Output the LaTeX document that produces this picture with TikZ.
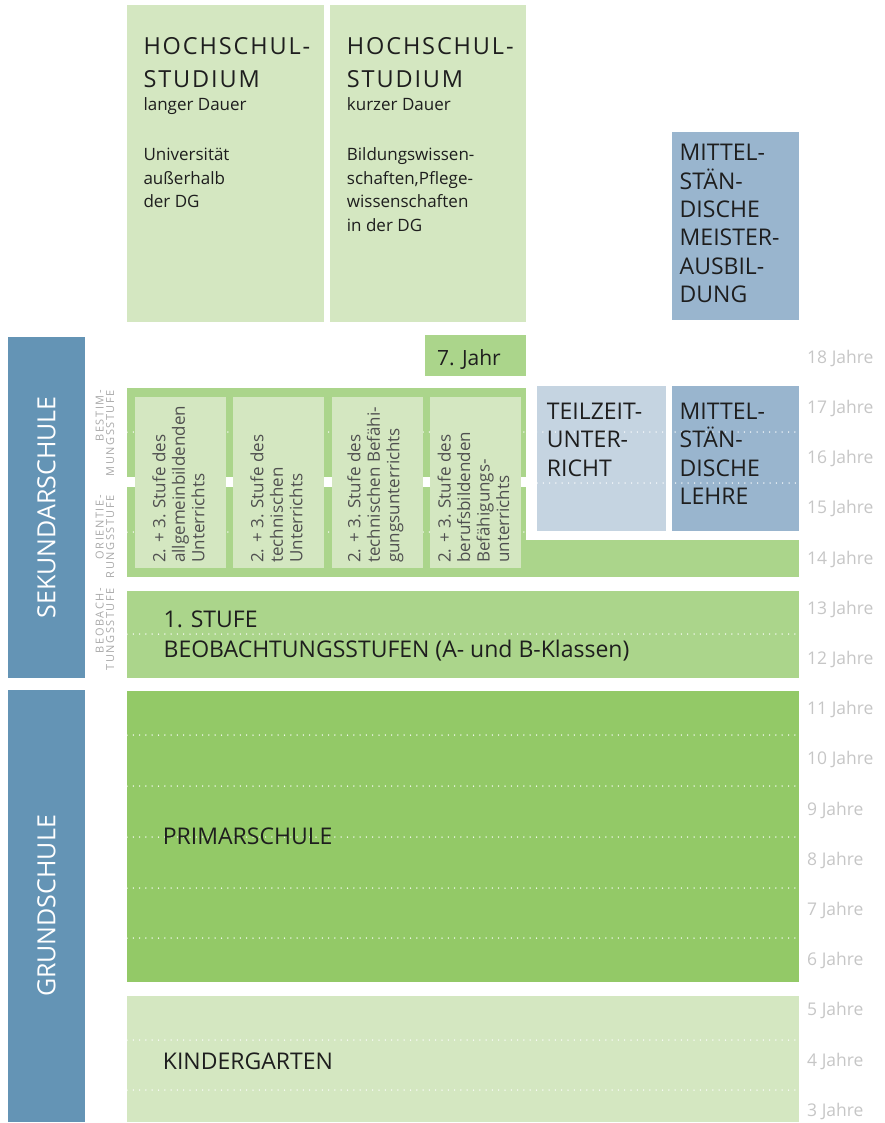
\documentclass[tikz,border=0pt]{standalone}
\usepackage{fontspec}
\setmainfont{Open Sans}
\newfontfamily\titlefont[LetterSpace=8]{Open Sans}
\newfontfamily\stagefont[LetterSpace=14]{Open Sans}
\usetikzlibrary{positioning}

\definecolor{paleGreen}{HTML}{D4E7C1}
\definecolor{midGreen}{HTML}{ABD58B}
\definecolor{strongGreen}{HTML}{93C967}
\definecolor{barBlue}{HTML}{6494B5}
\definecolor{meisterBlue}{HTML}{99B5CE}
\definecolor{paleBlue}{HTML}{C5D4E1}
\definecolor{ageGray}{HTML}{C6C6C6}
\definecolor{stageGray}{HTML}{A9A9A9}
\definecolor{inkBlack}{HTML}{1E1E1E}
\definecolor{turnGray}{HTML}{505050}

% base west of a multi-line node sits on its last line
\tikzstyle{box} = [rectangle, anchor=north west, inner sep=0pt, outer sep=0pt]
\tikzstyle{title} = [anchor=base west, inner sep=0pt, align=left, text=inkBlack, font=\titlefont\fontsize{23.5}{32.3}\selectfont]
\tikzstyle{boxtext} = [anchor=base west, inner sep=0pt, align=left, text=inkBlack, font=\fontsize{23}{28.4}\selectfont]
\tikzstyle{smalltext} = [anchor=base west, inner sep=0pt, align=left, text=inkBlack, font=\fontsize{17}{23.5}\selectfont]
\tikzstyle{turned} = [rotate=90, anchor=west, inner sep=0pt, align=left, text=turnGray, font=\fontsize{17}{19.5}\selectfont]
\tikzstyle{stage} = [rotate=90, anchor=east, inner sep=0pt, align=right, text=stageGray, font=\stagefont\fontsize{11}{10.5}\selectfont]
\tikzstyle{school} = [rotate=90, inner sep=0pt, text=white, font=\fontsize{25}{30}\selectfont]
\tikzstyle{age} = [anchor=west, inner sep=0pt, text=ageGray, font=\fontsize{17.5}{20}\selectfont]
\tikzstyle{yearline} = [white, line width=1.5pt, line cap=round, dash pattern=on 0pt off 6.3pt]

\begin{document}
\begin{tikzpicture}[x=1pt, y=-1pt]
\useasboundingbox (0,0) rectangle (884,1123);

% school types on the left
\node (sek) [box, fill=barBlue, minimum width=77pt, minimum height=341pt] at (8,337) {};
\node (grund) [box, fill=barBlue, minimum width=77pt, minimum height=432pt] at (8,690) {};
\node (sekText) [school] at (sek.center) {SEKUNDARSCHULE};
\node (grundText) [school] at (grund.center) {GRUNDSCHULE};

% higher education and training
\node (hsLang) [box, fill=paleGreen, minimum width=197pt, minimum height=317pt] at (127,5) {};
\node (hsKurz) [box, fill=paleGreen, minimum width=196pt, minimum height=317pt] at (330,5) {};
\node (meister) [box, fill=meisterBlue, minimum width=127pt, minimum height=188pt] at (672,132) {};
\node (jahr7) [box, fill=midGreen, minimum width=101pt, minimum height=41pt] at (425,335) {};

% secondary school
\node (bestim) [box, fill=midGreen, minimum width=399pt, minimum height=89pt] at (127,388) {};
\node (orient) [box, fill=midGreen, minimum width=399pt, minimum height=90pt] at (127,487) {};
\node (vierzehn) [box, fill=midGreen, minimum width=672pt, minimum height=37pt] at (127,540) {};
\node (teilzeit) [box, fill=paleBlue, minimum width=129pt, minimum height=145pt] at (537,386) {};
\node (lehre) [box, fill=meisterBlue, minimum width=127pt, minimum height=145pt] at (672,386) {};
\node (beob) [box, fill=midGreen, minimum width=672pt, minimum height=87pt] at (127,591) {};

% primary school and kindergarten
\node (primar) [box, fill=strongGreen, minimum width=672pt, minimum height=291pt] at (127,691) {};
\node (kinder) [box, fill=paleGreen, minimum width=672pt, minimum height=126pt] at (127,996) {};

% year borders
\draw [yearline] (bestim.north west) ++(0,44) -- ++(672,0);
\draw [yearline] (orient.north west) ++(0,45) -- ++(399,0);
\draw [yearline] (teilzeit.north west) ++(0,97) -- ++(262,0);
\draw [yearline] (beob.north west) ++(0,43) -- ++(672,0);
\foreach \d in {44,95,146,197,247}
  \draw [yearline] (primar.north west) ++(0,\d) -- ++(672,0);
\foreach \d in {44,94}
  \draw [yearline] (kinder.north west) ++(0,\d) -- ++(672,0);

% 2nd and 3rd stage
\foreach \x/\name in {135/allg, 233/tech, 332/befae, 430/beruf}
  \node (\name) [box, fill=paleGreen, minimum width=91pt, minimum height=171pt] at (\x,397) {};
\node (allgText) [turned] at ([xshift=-2pt, yshift=5pt]allg.south) {2. + 3. Stufe des\\allgemeinbildenden\\Unterrichts};
\node (techText) [turned] at ([xshift=-2pt, yshift=5pt]tech.south) {2. + 3. Stufe des\\technischen\\Unterrichts};
\node (befaeText) [turned] at ([xshift=-2pt, yshift=5pt]befae.south) {2. + 3. Stufe des\\technischen Befähi-\\gungsunterrichts};
\node (berufText) [turned] at ([xshift=-2pt, yshift=5pt]beruf.south) {2. + 3. Stufe des\\berufsbildenden\\Befähigungs-\\unterrichts};

% stage names
\node (bestimLbl) [stage] at (105,390) {BESTIM-\\MUNGSSTUFE};
\node (orientLbl) [stage] at (105,495) {ORIENTIE-\\RUNGSSTUFE};
\node (beobLbl) [stage] at (105,588) {BEOBACH-\\TUNGSSTUFE};

% texts in the boxes
\node (hsLangTitle) [title] at (143.3,87.3) {HOCHSCHUL-\\STUDIUM};
\node (hsLangSub) [smalltext] at (143.3,110.7) {langer Dauer};
\node (hsLangInfo) [smalltext] at (143.3,207.7) {Universität\\außerhalb\\der DG};
\node (hsKurzTitle) [title] at (346.7,87.3) {HOCHSCHUL-\\STUDIUM};
\node (hsKurzSub) [smalltext] at (346.7,110.7) {kurzer Dauer};
\node (hsKurzInfo) [smalltext] at (346.7,231.2) {Bildungswissen-\\schaften,Pflege-\\wissenschaften\\in der DG};
\node (meisterText) [boxtext] at (679.5,302.7) {MITTEL-\\STÄN-\\DISCHE\\MEISTER-\\AUSBIL-\\DUNG};
\node (jahrText) [boxtext, font=\fontsize{21}{24}\selectfont] at (437,365.5) {7. Jahr};
\node (teilzeitText) [boxtext] at (546.7,476.1) {TEILZEIT-\\UNTER-\\RICHT};
\node (lehreText) [boxtext] at (679.5,504.5) {MITTEL-\\STÄN-\\DISCHE\\LEHRE};
\node (beobText) [boxtext] at (163.4,657.3) {1. STUFE\\[1.2pt]BEOBACHTUNGSSTUFEN (A- und B-Klassen)};
\node (primarText) [boxtext] at (162.7,844.3) {PRIMARSCHULE};
\node (kinderText) [boxtext] at (162.7,1069.3) {KINDERGARTEN};

% age scale
\foreach \a in {18,17,...,3}
  \node (age\a) [age] at (807,{358.3+(18-\a)*50.2}) {\a~Jahre};

\end{tikzpicture}
\end{document}
